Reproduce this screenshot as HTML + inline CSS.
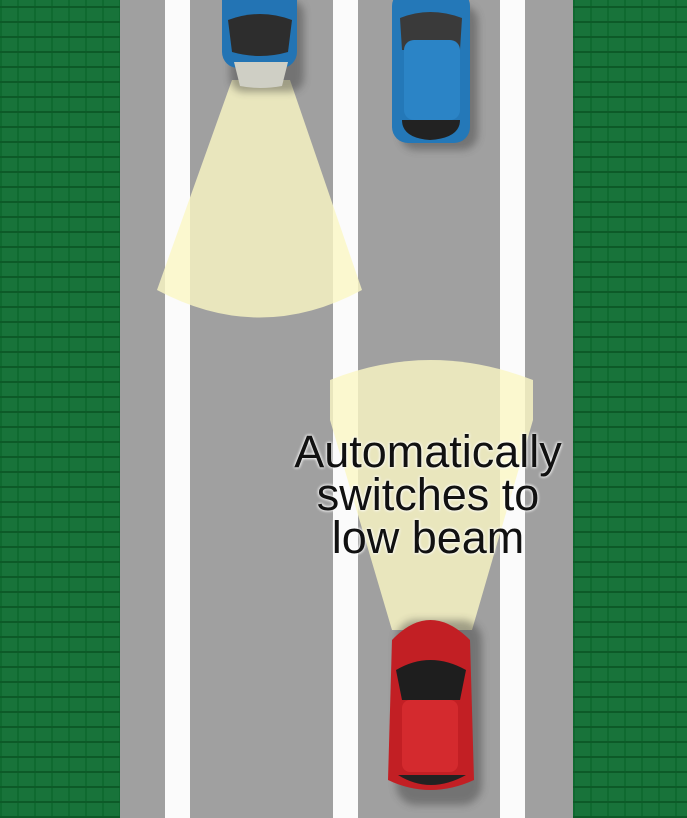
<!DOCTYPE html>
<html><head><style>
body{margin:0;width:687px;height:818px;overflow:hidden;background:#a0a0a0;position:relative;font-family:"Liberation Sans",sans-serif}
.g{position:absolute;top:0;height:818px;background:
repeating-linear-gradient(0deg,#0d5a28 0 2px,transparent 2px 15px),
repeating-linear-gradient(90deg,#0f6a30 0 2px,transparent 2px 17px),#18733a}
.w{position:absolute;top:0;height:818px;width:25px;background:#fbfbfb}
.t{position:absolute;left:228px;width:400px;text-align:center;font-size:45px;line-height:43px;color:#111;top:430px;transform:scaleX(1.0);transform-origin:200px 0;text-shadow:0 0 3px #fff,0 0 3px #fff}
</style></head><body>
<div class="g" style="left:0;width:120px"></div>
<div class="g" style="left:573px;width:114px"></div>
<div class="w" style="left:165px"></div>
<div class="w" style="left:333px"></div>
<div class="w" style="left:500px"></div>
<svg width="687" height="818" style="position:absolute;left:0;top:0">
<defs><filter id="s"><feGaussianBlur stdDeviation="4"/></filter></defs>
<path d="M232 80 L290 80 L362 290 Q260 345 157 290 Z" fill="#fbf8c4" opacity="0.8"/>
<path d="M330 380 Q430 340 533 380 L533 420 L472 630 L392 630 L330 420 Z" fill="#fbf8c4" opacity="0.8"/>
<rect x="230" y="0" width="74" height="92" rx="14" fill="#333" opacity=".4" filter="url(#s)"/>
<rect x="222" y="-20" width="75" height="88" rx="16" fill="#2374b4"/>
<path d="M228 20 Q260 8 292 20 L288 52 Q260 60 232 52 Z" fill="#2d2d2d"/>
<path d="M234 62 L288 62 L282 86 Q260 90 240 86 Z" fill="#cfcfc5"/>
<rect x="400" y="5" width="78" height="145" rx="16" fill="#333" opacity=".4" filter="url(#s)"/>
<rect x="392" y="-10" width="78" height="153" rx="16" fill="#2478b8"/>
<path d="M400 18 Q430 6 462 18 L460 50 L402 50 Z" fill="#3a3a3a"/>
<rect x="404" y="40" width="56" height="80" rx="10" fill="#2b84c6"/>
<path d="M402 120 L460 120 Q460 138 430 140 Q402 138 402 120Z" fill="#222"/>
<rect x="396" y="620" width="86" height="185" rx="20" fill="#333" opacity=".4" filter="url(#s)"/>
<path d="M392 640 Q430 600 470 640 L474 780 Q430 800 388 780 Z" fill="#c21f24"/>
<path d="M396 670 Q430 650 466 670 L460 700 L402 700 Z" fill="#1e1e1e"/>
<rect x="402" y="700" width="56" height="72" rx="8" fill="#d42a2e"/>
<path d="M398 775 L466 775 Q430 795 398 775Z" fill="#222"/>
</svg>
<div class="t">Automatically<br>switches to<br>low beam</div>
</body></html>
